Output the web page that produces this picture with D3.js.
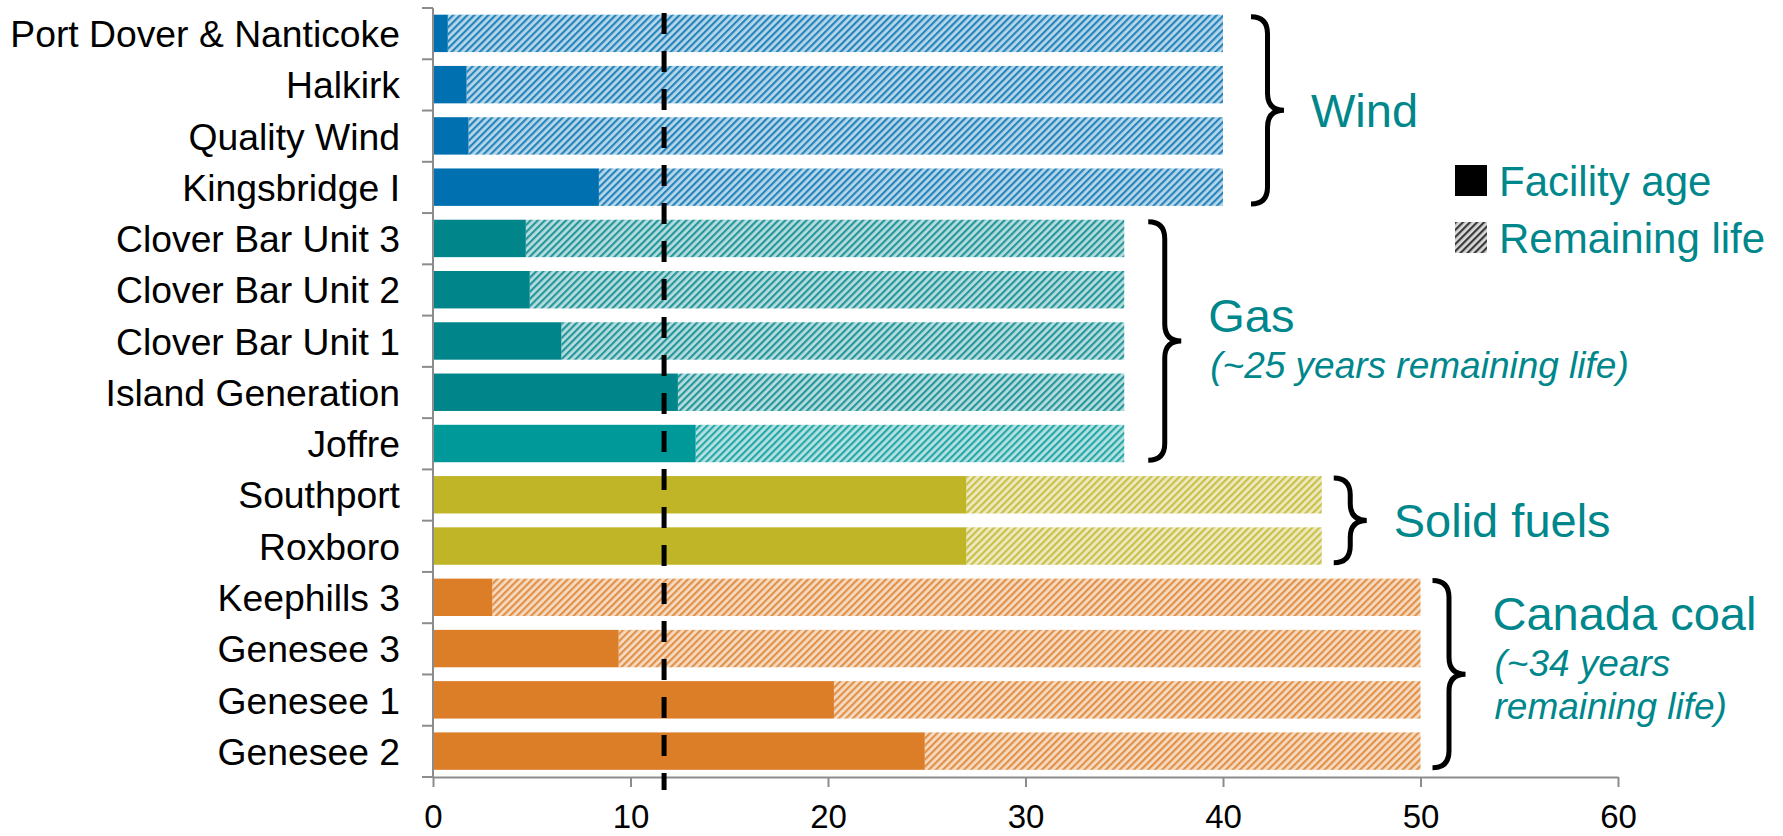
<!DOCTYPE html>
<html>
<head>
<meta charset="utf-8">
<script src="https://cdn.jsdelivr.net/npm/d3@7"></script>
<style>
  body { margin: 0; background: #fff; }
  text { font-family: "Liberation Sans", Arial, sans-serif; }
</style>
</head>
<body>
<svg id="chart" width="1783" height="836"></svg>
<script>
// facilities, top to bottom
var facilities = ["Port Dover & Nanticoke", "Halkirk", "Quality Wind", "Kingsbridge I",
  "Clover Bar Unit 3", "Clover Bar Unit 2", "Clover Bar Unit 1", "Island Generation", "Joffre",
  "Southport", "Roxboro",
  "Keephills 3", "Genesee 3", "Genesee 1", "Genesee 2"];
var facilityAge = [0.75, 1.7, 1.8, 8.4, 4.7, 4.9, 6.5, 12.4, 13.3, 27, 27, 3.0, 9.4, 20.3, 24.9];
var totalLife = [40, 40, 40, 40, 35, 35, 35, 35, 35, 45, 45, 50, 50, 50, 50];
var fuelGroup = ["Wind", "Wind", "Wind", "Wind", "Gas", "Gas", "Gas", "Gas", "Gas",
  "Solid fuels", "Solid fuels", "Canada coal", "Canada coal", "Canada coal", "Canada coal"];
var averageAge = 11.7;
var xTicks = [0, 10, 20, 30, 40, 50, 60];

var groupNames = ["Wind", "Gas", "Solid fuels", "Canada coal"];
var groupNotes = [[], ["(~25 years remaining life)"], [], ["(~34 years", "remaining life)"]];
var legendLabels = ["Facility age", "Remaining life"];

var svg = d3.select("#chart");
const plotLeft = 433, plotRight = 1618, plotTop = 8, plotBottom = 777;
const teal = "#00878C";
const axisGrey = "#8c8c8c";

var colorFor = (name, i) => {
  if (name == "Wind") return "#0070B0";
  if (name == "Gas") return facilities[i] == "Joffre" ? "#009999" : "#00858A";
  if (name == "Solid fuels") return "#BFB527";
  return "#DC7D28";
}

var x = d3.scaleLinear().domain([0, 60]).range([plotLeft, plotRight]);
var y = d3.scaleBand().domain(facilities).range([plotTop, plotBottom]).padding(0);
var step = y.step();
var barY = (d) => y(d) + step * 0.13;
var barH = step * 0.73;

// hatch patterns, one per colour
var defs = svg.append("defs");
var makeHatch = (id, col, bg) => {
  var p = defs.append("pattern")
    .attr("id", id)
    .attr("patternUnits", "userSpaceOnUse")
    .attr("width", 5).attr("height", 5)
    .attr("patternTransform", "rotate(45)");
  p.append("rect").attr("width", 5).attr("height", 5).attr("fill", bg);
  p.append("rect").attr("width", 2.2).attr("height", 5).attr("fill", col);
}
var colorIds = {};
facilities.forEach((f, i) => {
  var c = colorFor(fuelGroup[i], i);
  if (!colorIds[c]) {
    var id = "hatch" + Object.keys(colorIds).length;
    colorIds[c] = id;
    makeHatch(id, d3.interpolateRgb(c, "#fff")(0.15), d3.interpolateRgb(c, "#fff")(0.72));
  }
});
makeHatch("hatchLegend", "#3a3a3a", "#d8d8d8");

// remaining life (hatched) then age (solid)
svg.append("g").selectAll("rect")
  .data(facilities)
  .join("rect")
  .attr("x", (d, i) => x(facilityAge[i]))
  .attr("y", d => barY(d))
  .attr("width", (d, i) => x(totalLife[i]) - x(facilityAge[i]))
  .attr("height", barH)
  .attr("fill", (d, i) => "url(#" + colorIds[colorFor(fuelGroup[i], i)] + ")");

svg.append("g").selectAll("rect")
  .data(facilities)
  .join("rect")
  .attr("x", x(0))
  .attr("y", d => barY(d))
  .attr("width", (d, i) => x(facilityAge[i]) - x(0))
  .attr("height", barH)
  .attr("fill", (d, i) => colorFor(fuelGroup[i], i));

// y axis: line with ticks between categories
var yAxis = svg.append("g");
yAxis.append("line")
  .attr("x1", plotLeft).attr("x2", plotLeft)
  .attr("y1", plotTop).attr("y2", plotBottom)
  .attr("stroke", axisGrey).attr("stroke-width", 2);
yAxis.selectAll("line.tick")
  .data(facilities.map(d => y(d)).concat([plotBottom]))
  .join("line")
  .attr("class", "tick")
  .attr("x1", plotLeft - 11).attr("x2", plotLeft)
  .attr("y1", d => d).attr("y2", d => d)
  .attr("stroke", axisGrey).attr("stroke-width", 2);
yAxis.selectAll("text")
  .data(facilities)
  .join("text")
  .attr("x", 400)
  .attr("y", d => y(d) + step / 2)
  .attr("dy", "0.36em")
  .attr("text-anchor", "end")
  .attr("font-size", 37.3)
  .attr("fill", "#000")
  .text(d => d);

// x axis
var xAxis = svg.append("g")
  .attr("transform", "translate(0," + plotBottom + ")")
  .call(d3.axisBottom(x).tickValues(xTicks).tickSize(10).tickSizeOuter(0));
xAxis.select(".domain").attr("stroke", axisGrey).attr("stroke-width", 2);
xAxis.selectAll(".tick line").attr("stroke", axisGrey).attr("stroke-width", 2);
xAxis.selectAll(".tick text")
  .attr("y", 51)
  .attr("dy", 0)
  .style("font-family", "'Liberation Sans Narrow', 'Arial Narrow', 'Liberation Sans', sans-serif")
  .attr("font-size", 33)
  .attr("fill", "#000");

// average age dashed line
svg.append("line")
  .attr("x1", x(averageAge)).attr("x2", x(averageAge))
  .attr("y1", 13).attr("y2", 790)
  .attr("stroke", "#000").attr("stroke-width", 5)
  .attr("stroke-dasharray", "21,17");

// braces and group labels
var braceOffset = { "Wind": 28, "Gas": 24, "Solid fuels": 12, "Canada coal": 12 };
var braceW = 33;
var bracePath = (bx, y0, y1, w) => {
  var ym = (y0 + y1) / 2, sx = bx + w * 0.5, r = 17;
  return "M" + bx + "," + y0 +
    " Q" + sx + "," + y0 + " " + sx + "," + (y0 + r) +
    " L" + sx + "," + (ym - r) +
    " Q" + sx + "," + ym + " " + (bx + w) + "," + ym +
    " Q" + sx + "," + ym + " " + sx + "," + (ym + r) +
    " L" + sx + "," + (y1 - r) +
    " Q" + sx + "," + y1 + " " + bx + "," + y1;
}

groupNames.forEach((g, gi) => {
  var rows = facilities.filter((f, i) => fuelGroup[i] == g);
  var maxLife = d3.max(totalLife.filter((t, i) => fuelGroup[i] == g));
  var y0 = barY(rows[0]) + 2;
  var y1 = barY(rows[rows.length - 1]) + barH - 2;
  var bx = x(maxLife) + braceOffset[g];
  svg.append("path")
    .attr("d", bracePath(bx, y0, y1, braceW))
    .attr("fill", "none")
    .attr("stroke", "#000")
    .attr("stroke-width", 5);

  var ym = (y0 + y1) / 2;
  var notes = groupNotes[gi];
  var tx = bx + braceW + 27;
  var titleY = notes.length == 0 ? ym + 17 : (notes.length == 1 ? ym - 9 : ym - 44);
  svg.append("text")
    .attr("x", tx).attr("y", titleY)
    .attr("font-size", 47)
    .attr("fill", teal)
    .text(g);
  notes.forEach((n, ni) => {
    svg.append("text")
      .attr("x", tx + 2).attr("y", titleY + 46 + ni * 43)
      .attr("font-size", 37)
      .attr("font-style", "italic")
      .attr("fill", teal)
      .text(n);
  });
});

// legend
var legend = svg.append("g").attr("transform", "translate(1455,165)");
legend.selectAll("rect")
  .data(legendLabels)
  .join("rect")
  .attr("x", 0)
  .attr("y", (d, i) => i * 57)
  .attr("width", 32).attr("height", 31)
  .attr("fill", (d, i) => i == 0 ? "#000" : "url(#hatchLegend)");
legend.selectAll("text")
  .data(legendLabels)
  .join("text")
  .attr("x", 44)
  .attr("y", (d, i) => i * 57 + 31)
  .attr("font-size", 42)
  .attr("fill", teal)
  .text(d => d);
</script>
</body>
</html>
